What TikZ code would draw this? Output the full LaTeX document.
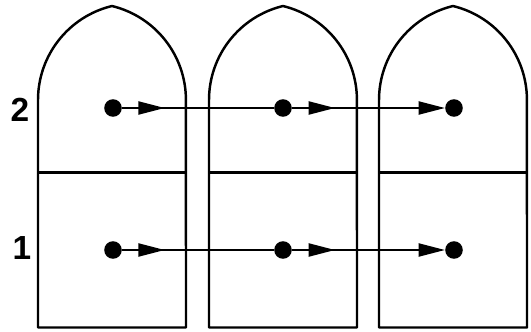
\documentclass[tikz,border=0pt]{standalone}
\usepackage{fontspec}
\setsansfont{Liberation Sans}
\usepackage{tikz}
\usetikzlibrary{arrows.meta,decorations.markings}

\tikzset{
  wall/.style={line width=1.4pt, draw=black, line join=round},
  dot/.style={circle, fill=black, inner sep=0pt, minimum size=10pt},
  flow/.style={line width=1pt, postaction={decorate},
    decoration={markings, mark=at position 0.28 with {\arrow{Triangle[length=15pt,width=7.5pt]}}}},
  rowlabel/.style={font=\sffamily\bfseries\fontsize{19}{19}\selectfont}
}

\begin{document}
\begin{tikzpicture}[scale=0.2]
  \useasboundingbox (0,0) rectangle (53.1,-33.1);
  % three pointed arches, each cut in two
  \draw[wall] (3.8,-32.75) -- (3.8,-10) arc[start angle=180, end angle=103.6, radius=9.67]
    arc[start angle=76.4, end angle=0, radius=9.67] -- (18.6,-32.75) -- cycle;
  \draw[wall] (3.8,-17.25) -- (18.6,-17.25);
  \draw[wall] (20.9,-32.75) -- (20.9,-10) arc[start angle=180, end angle=103.6, radius=9.67]
    arc[start angle=76.4, end angle=0, radius=9.67] -- (35.7,-32.75) -- cycle;
  \draw[wall] (20.9,-17.25) -- (35.7,-17.25);
  \draw[wall] (37.9,-32.75) -- (37.9,-10) arc[start angle=180, end angle=103.6, radius=9.67]
    arc[start angle=76.4, end angle=0, radius=9.67] -- (52.7,-32.75) -- cycle;
  \draw[wall] (37.9,-17.25) -- (52.7,-17.25);

  \node[rowlabel] (lab2) at (2.0,-11.0) {2};
  \node[rowlabel] (lab1) at (2.2,-24.8) {1};

  % upper row
  \node[dot] (u1) at (11.3,-10.8) {};
  \node[dot] (u2) at (28.3,-10.8) {};
  \node[dot] (u3) at (45.4,-10.8) {};
  \draw[flow] (u1) -- (u2);
  \draw[flow, -{Triangle[length=15pt,width=7.5pt]}] (u2) -- (u3);

  % lower row
  \node[dot] (d1) at (11.3,-25.0) {};
  \node[dot] (d2) at (28.3,-25.0) {};
  \node[dot] (d3) at (45.4,-25.0) {};
  \draw[flow] (d1) -- (d2);
  \draw[flow, -{Triangle[length=15pt,width=7.5pt]}] (d2) -- (d3);
\end{tikzpicture}
\end{document}
